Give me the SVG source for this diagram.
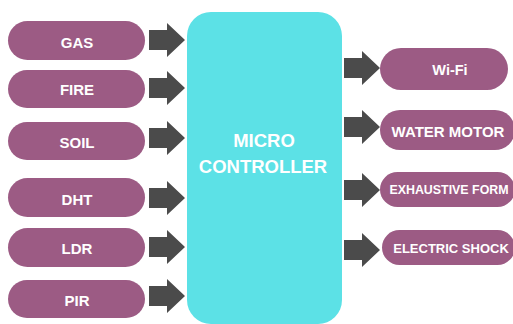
<svg xmlns="http://www.w3.org/2000/svg" width="513" height="324" viewBox="0 0 513 324">
<defs>
<style>
.pill{fill:#9c5b84}
.lbl{fill:#ffffff;font-family:"Liberation Sans",Arial,sans-serif;font-weight:bold;text-anchor:middle;dominant-baseline:central}
.arr{fill:#4b4b4b}
</style>
<path id="la" d="M0,-10 H18 V-17 L36,0 L18,17 V10 H0 Z"/>
</defs>
<rect width="513" height="324" fill="#ffffff"/>
<g id="controller">
<rect x="187" y="12" width="155" height="312" rx="24" fill="#5ce1e6"/>
<text class="lbl" x="264" y="140" font-size="18.5">MICRO</text>
<text class="lbl" x="263" y="166" font-size="18.5">CONTROLLER</text>
</g>
<g id="gas"><rect class="pill" x="8" y="21" width="137" height="39" rx="19.5"/><text class="lbl" x="77" y="42" font-size="15">GAS</text></g>
<g id="fire"><rect class="pill" x="8" y="70" width="137" height="38" rx="19"/><text class="lbl" x="77" y="89.5" font-size="15">FIRE</text></g>
<g id="soil"><rect class="pill" x="8" y="122" width="137" height="38" rx="19"/><text class="lbl" x="77" y="142" font-size="15">SOIL</text></g>
<g id="dht"><rect class="pill" x="8" y="178" width="137" height="39" rx="19.5"/><text class="lbl" x="77" y="199" font-size="15">DHT</text></g>
<g id="ldr"><rect class="pill" x="8" y="228" width="137" height="39" rx="19.5"/><text class="lbl" x="77" y="248" font-size="15">LDR</text></g>
<g id="pir"><rect class="pill" x="8" y="280" width="137" height="38" rx="19"/><text class="lbl" x="77" y="300.5" font-size="15">PIR</text></g>
<g id="wifi"><rect class="pill" x="380" y="48" width="128" height="42" rx="21"/><text class="lbl" x="450" y="70" font-size="14.5">Wi-Fi</text></g>
<g id="water-motor"><rect class="pill" x="380" y="110" width="135" height="40" rx="20"/><text class="lbl" x="448" y="131" font-size="15">WATER MOTOR</text></g>
<g id="exhaustive-form"><rect class="pill" x="380" y="172" width="135" height="35" rx="17.5"/><text class="lbl" x="449" y="190" font-size="12.4">EXHAUSTIVE FORM</text></g>
<g id="electric-shock"><rect class="pill" x="382" y="230" width="133" height="35" rx="17.5"/><text class="lbl" x="451" y="248" font-size="13">ELECTRIC SHOCK</text></g>
<g id="connectors" class="arr">
<use href="#la" x="149" y="40"/>
<use href="#la" x="149" y="88"/>
<use href="#la" x="149" y="138"/>
<use href="#la" x="149" y="198"/>
<use href="#la" x="149" y="247"/>
<use href="#la" x="149" y="296"/>
<use href="#la" x="344" y="68"/>
<use href="#la" x="344" y="127"/>
<use href="#la" x="344" y="190"/>
<use href="#la" x="344" y="250"/>
</g>
</svg>
